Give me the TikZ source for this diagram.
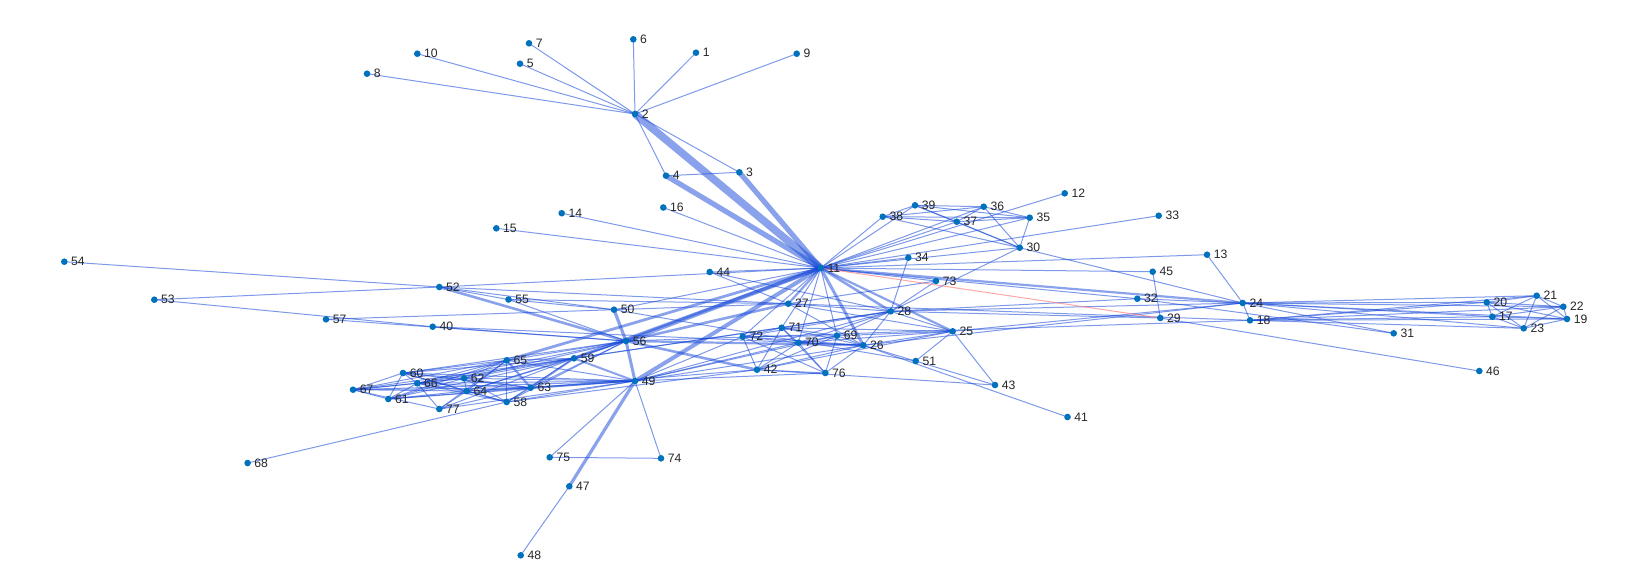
\documentclass[tikz,border=0pt]{standalone}
\usepackage{fontspec}
\setmainfont{Liberation Sans}
\definecolor{ec}{RGB}{20,70,215}
\definecolor{nc}{RGB}{0,114,189}
\definecolor{rc}{RGB}{255,110,110}
\begin{document}
\begin{tikzpicture}[x=0.5pt,y=-0.5pt,
  ed/.style={draw=ec,draw opacity=0.55,line width=0.5pt},
  redge/.style={draw=rc,draw opacity=0.6,line width=0.5pt},
  dot/.style={circle,fill=nc,inner sep=0pt,minimum size=3.3pt},
  lab/.style={font=\fontsize{6.1}{7}\selectfont,text=black!85,inner sep=0pt,anchor=west}]
\useasboundingbox (0,0) rectangle (1631,586);
\foreach \i/\x/\y in {1/696/52.7,2/635/114,3/739.3/172.3,4/666/175.7,5/520/63.7,6/633.3/39.3,7/529/43.3,8/367/73.7,9/796.7/53.7,10/417.3/53.7,
11/820.7/268,12/1064.7/193.3,13/1207/254.7,14/561.7/213.2,15/496.3/228.3,16/663.3/207.5,17/1492.3/316.7,18/1250/320.3,19/1567/319,20/1486.7/302.3,
21/1536.7/295.7,22/1563.3/306.7,23/1523.7/328.3,24/1242.7/303,25/952.7/331.3,26/863.3/345.3,27/788.3/303.7,28/890.7/311.3,29/1160.3/318,30/1019.7/247.7,
31/1393.7/333.3,32/1137.3/298.7,33/1158.7/215.7,34/908.3/257.7,35/1029.7/217.7,36/983.7/206.7,37/956.7/221.7,38/882.7/216.7,39/915/205.3,40/432.7/326.7,
41/1067.5/417,42/757/369.7,43/995/385,44/709.7/272,45/1152.7/271.7,46/1479.3/371,47/569.3/486.3,48/520.7/555.3,49/635/381,50/614/309.7,
51/915.7/361,52/439.3/287,53/154.3/299.7,54/64.3/261.7,55/508.5/299.5,56/626/341,57/326/319.3,58/506.7/402,59/574/358.3,60/403/373,
61/388.3/399,62/464/378.3,63/530.7/387.7,64/466.7/391,65/506.7/360.3,66/417.3/383.3,67/353/389.7,68/247.6/463,69/837/335.7,70/798.3/342.7,
71/781.7/327.7,72/742.7/336.7,73/936/281,74/661/458.3,75/549.7/457.3,76/825.3/373,77/439.3/409}
  \coordinate (n\i) at (\x,\y);
% thick edges (width in pt)
\foreach \a/\b/\w in {2/11/3.8,3/11/2.6,4/11/2.6,47/49/1.6,11/56/2,11/49/2,11/59/1.6,11/65/1.4,11/26/1.5,11/28/1.3,11/25/1.1,11/24/1.1,11/27/1.1,
50/56/1.6,49/56/1.5,52/56/1.3,42/56/1.3,27/56/1.3,26/56/1.1,63/65/1.1,59/49/1,59/63/1}
  \draw[ed,draw opacity=0.5,line width=\w pt] (n\a) -- (n\b);
% thin edges
\foreach \a/\b in {1/2,2/3,2/4,3/4,2/5,2/6,2/7,2/8,2/9,2/10,11/12,11/13,11/14,11/15,11/16,
17/18,18/19,17/19,18/20,17/20,19/20,18/21,17/21,19/21,20/21,18/22,17/22,19/22,20/22,21/22,18/23,17/23,19/23,20/23,21/23,22/23,
18/24,17/24,19/24,20/24,21/24,22/24,23/24,13/24,24/25,25/26,24/26,25/27,18/27,26/27,24/28,26/28,25/28,27/28,28/29,
24/30,28/30,11/30,24/31,31/32,11/32,24/32,28/32,11/33,11/34,28/34,11/35,30/35,11/36,35/36,30/36,
35/37,36/37,11/37,30/37,35/38,36/38,37/38,11/38,30/38,35/39,36/39,37/39,38/39,11/39,30/39,
26/40,26/41,25/42,26/42,42/43,26/43,25/43,11/44,27/44,28/44,29/45,11/45,29/46,47/48,26/49,28/49,
27/50,11/50,50/51,25/51,50/52,27/52,11/52,52/53,40/53,52/54,52/55,50/55,27/55,40/56,55/56,18/56,
50/57,56/57,56/58,42/58,49/58,56/59,28/59,58/59,59/60,56/60,49/60,58/60,49/61,59/61,60/61,
49/62,59/62,61/62,60/62,58/62,56/62,56/63,60/63,49/63,58/63,42/63,62/63,61/63,
60/64,49/64,63/64,58/64,59/64,62/64,61/64,56/64,56/65,49/65,64/65,59/65,62/65,61/65,60/65,58/65,
64/66,65/66,49/66,63/66,59/66,62/66,61/66,60/66,58/66,56/66,65/67,59/67,60/67,63/67,66/67,49/67,64/67,62/67,61/67,
58/68,26/69,11/69,25/69,28/69,49/69,42/69,26/70,69/70,11/70,25/70,28/70,49/70,42/70,
26/71,70/71,69/71,11/71,25/71,28/71,42/71,59/71,28/72,70/72,69/72,71/72,11/72,49/72,42/72,26/72,
27/73,28/73,11/73,49/74,49/75,74/75,70/76,69/76,26/76,49/76,42/76,71/76,72/76,
65/77,66/77,67/77,64/77,63/77,49/77,59/77}
  \draw[ed] (n\a) -- (n\b);
\draw[redge] (n11) -- (n29);
% nodes and labels
\foreach \i in {1,...,77}{
  \node[dot] (d\i) at (n\i) {};
  \node[lab] (l\i) at ([xshift=3.2pt]n\i) {\i};
}
\end{tikzpicture}
\end{document}
